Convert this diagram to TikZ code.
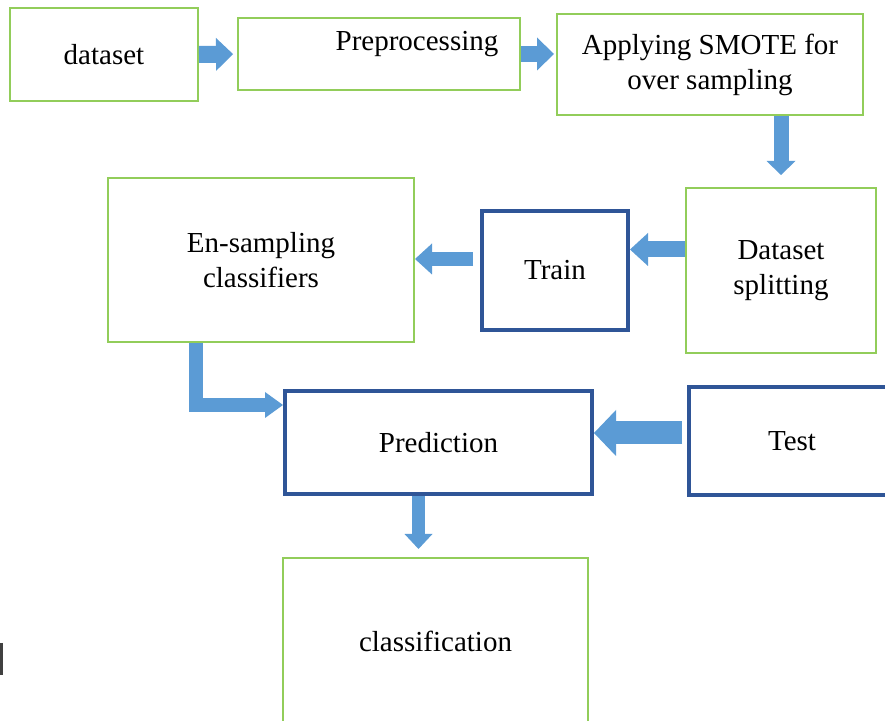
\documentclass[tikz,border=0pt]{standalone}
\usepackage{fontspec}
\setmainfont{Liberation Serif}
\usetikzlibrary{arrows.meta}
\definecolor{boxgreen}{RGB}{146,205,90}
\definecolor{boxblue}{RGB}{47,85,151}
\definecolor{arrowblue}{RGB}{91,155,213}
\begin{document}
\begin{tikzpicture}[
    x=0.5pt, y=-0.5pt,
    font=\fontsize{14.5}{17.5}\selectfont,
    greenbox/.style={
        draw=boxgreen,
        line width=1pt,
        align=center,
        inner sep=0pt
    },
    bluebox/.style={
        draw=boxblue,
        line width=2pt,
        align=center,
        inner sep=0pt
    },
    fatarrow/.style n args={3}{
        draw=arrowblue,
        line width=#1,
        -{Triangle[line width=0pt,width=#2,length=#3]}
    }
]
    \useasboundingbox (0,0) rectangle (885,721);
    \clip (0,0) rectangle (885,721);

    \node[greenbox, minimum width=94pt, minimum height=46.5pt] (dataset)
        at (104,54.5) {dataset};
    \node[greenbox, minimum width=141pt, minimum height=36pt] (prep)
        at (379,54) {};
    \node (preptext) at (417,44) {Preprocessing};
    \node[greenbox, minimum width=153pt, minimum height=50.5pt] (smote)
        at (710,64.5) {Applying SMOTE for\\over sampling};
    \node[greenbox, minimum width=95pt, minimum height=82.5pt] (split)
        at (781,270.5) {Dataset\\splitting};
    \node[bluebox, minimum width=73pt, minimum height=59.5pt] (train)
        at (555,270.5) {Train};
    \node[greenbox, minimum width=153pt, minimum height=82pt] (ens)
        at (261,260) {En-sampling\\classifiers};
    \node[bluebox, minimum width=153.5pt, minimum height=51.5pt] (pred)
        at (438.5,442.5) {Prediction};
    \node[bluebox, minimum width=103pt, minimum height=54pt] (test)
        at (792,441) {Test};
    \node[greenbox, minimum width=152.5pt, minimum height=83pt] (class)
        at (435.5,641) {classification};

    \draw[fatarrow={8.5pt}{16.5pt}{8.5pt}, shorten >=2pt]
        (dataset.east) -- (prep.west);
    \draw[fatarrow={8pt}{16.5pt}{8.5pt}, shorten >=1pt]
        (prep.east) -- (prep.east -| smote.west);
    \draw[fatarrow={7.5pt}{14.5pt}{7pt}, shorten >=6pt]
        (split.north |- smote.south) -- (split.north);
    \draw[fatarrow={8pt}{16.5pt}{9pt}]
        ([yshift=10.5pt]split.west) -- ([yshift=10.5pt]train.east);
    \draw[fatarrow={7pt}{15.5pt}{8.5pt}, shorten <=3.5pt]
        ([yshift=5.75pt]train.west) -- ([yshift=5.75pt]train.west -| ens.east);
    \draw[fatarrow={7pt}{13pt}{9pt}]
        ([xshift=-32.5pt]ens.south) |- ([yshift=18.75pt]pred.west);
    \draw[fatarrow={11.5pt}{23pt}{11pt}, shorten <=2.5pt]
        ([yshift=4pt]test.west) -- ([yshift=4pt]test.west -| pred.east);
    \draw[fatarrow={6.5pt}{14pt}{7.5pt}, shorten >=4pt]
        ([xshift=-10pt]pred.south) -- ([xshift=-10pt]pred.south |- class.north);

    \draw[line width=1.5pt, black!75] (1.5,643) -- (1.5,675);
\end{tikzpicture}
\end{document}
